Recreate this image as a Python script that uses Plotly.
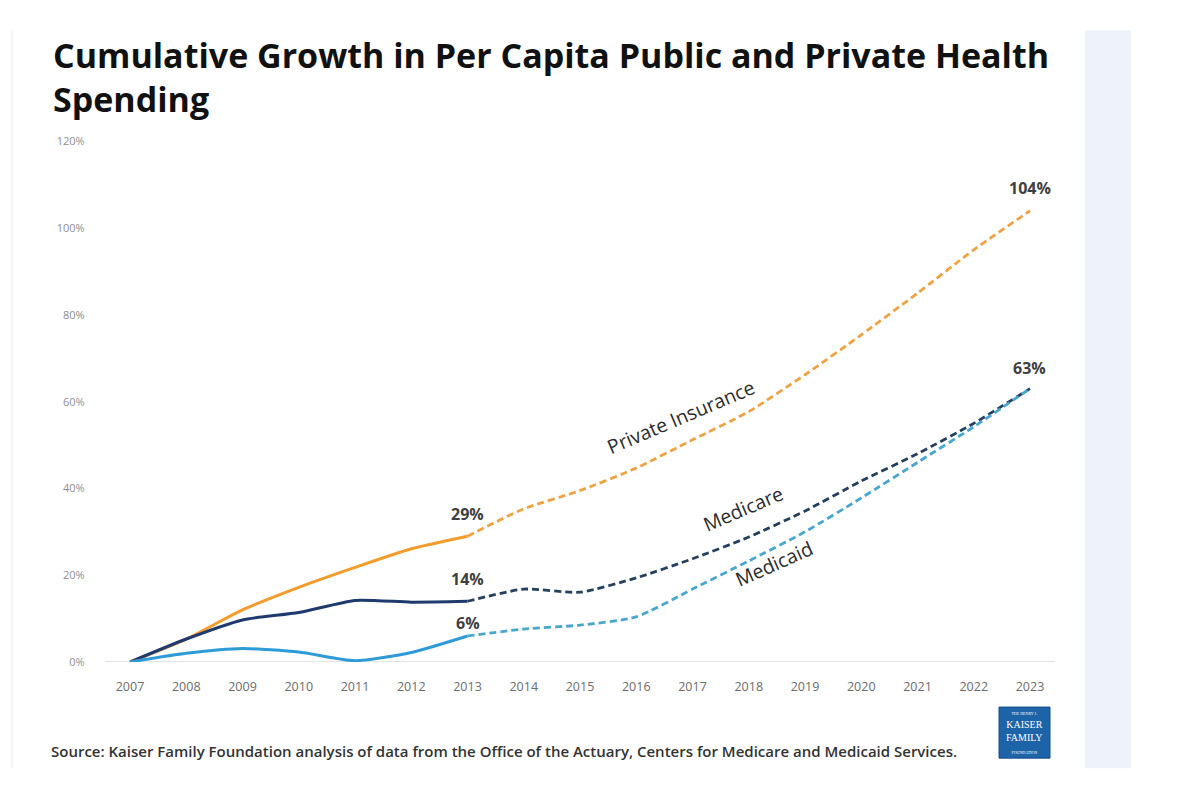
import plotly.graph_objects as go

years = list(range(2007, 2024))
private_ins = [0, 5.3, 12.0, 17.2, 21.8, 26.1, 29, 35.3, 39.5, 44.7, 51.2, 57.7, 66.2, 75.4, 85, 95, 104]
medicare = [0, 5.3, 9.7, 11.4, 14.2, 13.8, 14, 16.8, 16.1, 19.4, 23.8, 28.8, 34.8, 41.7, 48, 55, 63]
medicaid = [0, 2.0, 3.1, 2.3, 0.3, 2.2, 6, 7.6, 8.5, 10.4, 16.8, 23.3, 30, 37.8, 46, 54.2, 63]
series_names = ["Private Insurance", "Medicare", "Medicaid"]
split_year = 2013
mid_labels = ["29%", "14%", "6%"]
y_ticks = [0, 20, 40, 60, 80, 100, 120]
y_tick_text = ["0%", "20%", "40%", "60%", "80%", "100%", "120%"]

W, H = 1188, 802
OFF = 8
def px(x): return (x - OFF) / W
def py(y):
    ys = 400 + (y - 400) / 0.98
    return 1 - (ys - OFF) / H

fig = go.Figure()

solid_colors = ["#F39C2B", "#1F3A6E", "#2E9BD8"]
dash_colors = ["#EFA243", "#24405E", "#48A6CF"]
data = [private_ins, medicare, medicaid]
si = years.index(split_year)
for name, vals, sc, dc in zip(series_names, data, solid_colors, dash_colors):
    fig.add_trace(go.Scatter(x=years[:si + 1], y=vals[:si + 1], mode="lines",
                             line=dict(color=sc, width=3, shape="spline", smoothing=0.6),
                             name=name, showlegend=False, hoverinfo="skip"))
    fig.add_trace(go.Scatter(x=years[si:], y=vals[si:], mode="lines",
                             line=dict(color=dc, width=2.8, dash="7px,4px", shape="spline", smoothing=0.6),
                             name=name, showlegend=False, hoverinfo="skip"))

x_dom = [px(104.7), px(1055.3)]
y_dom = [py(661), py(141)]

fig.update_layout(
    width=W, height=H,
    margin=dict(l=0, r=0, t=0, b=0),
    paper_bgcolor="white", plot_bgcolor="white",
    xaxis=dict(domain=x_dom, range=[2006.55, 2023.45], tickmode="array", tickvals=years,
               ticktext=[str(y) for y in years], showgrid=False, zeroline=False,
               showline=False, ticks="", ticklabelstandoff=15,
               tickfont=dict(family="Open Sans", size=12.5, color="#6b6b6b")),
    yaxis=dict(domain=y_dom, range=[0, 120], tickmode="array", tickvals=y_ticks,
               ticktext=y_tick_text, showgrid=False, zeroline=False, showline=False, ticks="",
               ticklabelstandoff=19,
               tickfont=dict(family="Open Sans", size=11, color="#8f8f8f")),
)

shapes = []
shapes.append(dict(type="rect", xref="paper", yref="paper", x0=px(1085), x1=px(1131), y0=py(767), y1=py(30),
                   fillcolor="#EEF2F9", line=dict(width=0), layer="below"))
shapes.append(dict(type="line", xref="paper", yref="paper", x0=px(12), x1=px(12), y0=py(767), y1=py(30),
                   line=dict(color="#EEEEEE", width=1), layer="below"))
shapes.append(dict(type="line", xref="x", yref="y", x0=2006.55, x1=2023.45, y0=0, y1=0,
                   line=dict(color="#E3E3E3", width=2), layer="below"))
shapes.append(dict(type="rect", xref="paper", yref="paper", x0=px(999), x1=px(1050), y0=py(757), y1=py(706),
                   fillcolor="#1D63A8", line=dict(color="#15508C", width=1)))
fig.update_layout(shapes=shapes)

ann = []
ann.append(dict(xref="paper", yref="paper", x=px(51), y=py(30), xanchor="left", yanchor="top",
                text="<b>Cumulative Growth in Per Capita Public and Private Health<br>Spending</b>",
                align="left", showarrow=False,
                font=dict(family="Open Sans", size=34, color="#111111")))
for lbl, vals, ys in zip(mid_labels, data, [22, 22, 13]):
    ann.append(dict(x=split_year, y=vals[si], text="<b>" + lbl + "</b>", showarrow=False,
                    yshift=ys, yanchor="middle",
                    font=dict(family="Open Sans", size=16, color="#404040")))
ann.append(dict(x=years[-1], y=private_ins[-1], text="<b>104%</b>", showarrow=False, yshift=23, yanchor="middle",
                font=dict(family="Open Sans", size=16, color="#404040")))
ann.append(dict(x=years[-1], y=medicare[-1], text="<b>63%</b>", showarrow=False, yshift=21, yanchor="middle",
                font=dict(family="Open Sans", size=16, color="#404040")))
for name, xx, yy, ang in [("Private Insurance", 2016.8, 56.5, -23), ("Medicare", 2017.9, 35.3, -23),
                          ("Medicaid", 2018.45, 22.6, -24)]:
    ann.append(dict(x=xx, y=yy, text=name, showarrow=False, textangle=ang,
                    font=dict(family="Open Sans", size=19.5, color="#2b2b2b")))
ann.append(dict(xref="paper", yref="paper", x=px(49), y=py(750),
                text="Source: Kaiser Family Foundation analysis of data from the Office of the Actuary, Centers for Medicare and Medicaid Services.",
                xanchor="left", yanchor="middle", showarrow=False,
                font=dict(family="Open Sans", size=15, color="#333333", weight=600)))
ann.append(dict(xref="paper", yref="paper", x=px(1024.5), y=py(731.5),
                text="<span style='font-size:4px'>THE HENRY J.</span><br>KAISER<br>FAMILY<br><span style='font-size:4px'>FOUNDATION</span>",
                showarrow=False, xanchor="center", yanchor="middle",
                font=dict(family="Liberation Serif", size=10, color="white")))
fig.update_layout(annotations=ann)

fig.write_html("out.html")
